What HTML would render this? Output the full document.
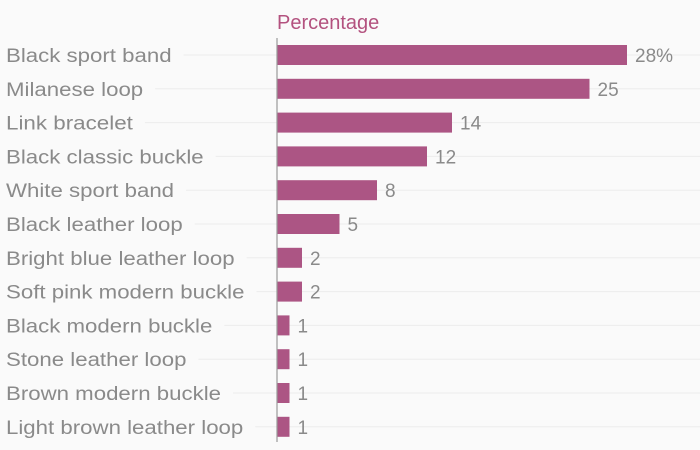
<!DOCTYPE html>
<html><head><meta charset="utf-8"><style>
body{margin:0;background:#fafafa;}
svg{display:block;font-family:"Liberation Sans",sans-serif;}
</style></head><body>
<svg id="c" width="700" height="450">
<text x="277" y="29" font-size="20" fill="#b3527f">Percentage</text>
</svg>
<script>
const categories=["Black sport band","Milanese loop","Link bracelet","Black classic buckle","White sport band","Black leather loop","Bright blue leather loop","Soft pink modern buckle","Black modern buckle","Stone leather loop","Brown modern buckle","Light brown leather loop"];
const values=[28,25,14,12,8,5,2,2,1,1,1,1];
const valueLabels=["28%","25","14","12","8","5","2","2","1","1","1","1"];
const svg=document.getElementById('c');
const NS='http://www.w3.org/2000/svg';
const x0=277, xs=v=>x0+v*12.5;
const yc=i=>55+i*33.8;
function mk(t,a){const e=document.createElementNS(NS,t);for(const k in a)e.setAttribute(k,a[k]);svg.appendChild(e);return e;}
categories.forEach((c,i)=>{
  const y=yc(i);
  const g=mk('line',{x1:0,x2:700,y1:y,y2:y,stroke:'#ececec','stroke-width':1});
  
  
  const lb=mk('text',{x:6,y:y+7,'font-size':19,fill:'#8a8a8a'});
  lb.textContent=c;
  const w0=lb.getBBox().width;
  lb.setAttribute('textLength',w0*1.17);
  lb.setAttribute('lengthAdjust','spacingAndGlyphs');
  const w=w0*1.17;
  const bg=mk('rect',{x:0,y:y-14,width:w+18,height:28,fill:'#fafafa'});
  svg.insertBefore(bg,lb);
  
  
  
  
  const r=mk('rect',{x:x0,y:y-10,width:xs(values[i])-x0,height:20,fill:'#ac5584'});
  
  
  const v=mk('text',{x:xs(values[i])+8,y:y+7,'font-size':19,fill:'#8a8a8a'});
  v.textContent=valueLabels[i];
  
  
});
const ax=mk('line',{x1:x0,x2:x0,y1:38,y2:442,stroke:'#999','stroke-width':1.2});


</script>
</body></html>
